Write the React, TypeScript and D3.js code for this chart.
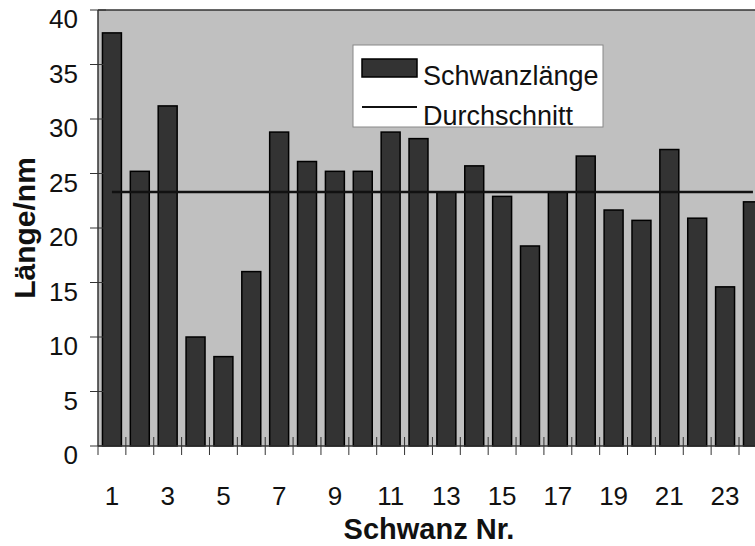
import React from "react";
import * as d3 from "d3";

const categories: string[] = Array.from({ length: 24 }, (_, i) => String(i + 1));
const lengths: number[] = [
  37.9, 25.2, 31.2, 10.0, 8.2, 16.0, 28.8, 26.1, 25.2, 25.2, 28.8, 28.2,
  23.3, 25.7, 22.9, 18.35, 23.3, 26.6, 21.65, 20.7, 27.2, 20.9, 14.6, 22.4,
];
const average = 23.3;
const yTicks: number[] = [0, 5, 10, 15, 20, 25, 30, 35, 40];
const xTickLabels: string[] = ["1", "3", "5", "7", "9", "11", "13", "15", "17", "19", "21", "23"];
const legendLabels = { bar: "Schwanzlänge", line: "Durchschnitt" };
const xTitle = "Schwanz Nr.";
const yTitle = "Länge/nm";

const W = 755;
const H = 546;
const left = 98;
const top = 10;
const bottom = 446;
const step = 27.87;
const right = left + categories.length * step;
const FONT = "'Liberation Sans', Arial, sans-serif";

export default function App() {
  const x = d3
    .scaleBand<string>()
    .domain(categories)
    .range([left, right])
    .paddingInner(0.32)
    .paddingOuter(0.16);
  const y = d3.scaleLinear().domain([0, 40]).range([bottom, top]);
  const center = (c: string) => (x(c) as number) + x.bandwidth() / 2;
  const boundaries = d3.range(categories.length + 1).map((k) => left + k * x.step());

  const avgLine = d3
    .line<string>()
    .x((c) => center(c))
    .y(() => y(average));

  return (
    <svg
      width={W}
      height={H}
      style={{ position: "absolute", left: 0, top: 0, background: "#fff" }}
      fontFamily={FONT}
    >
      <rect x={left} y={top} width={right - left} height={bottom - top} fill="#c0c0c0" />
      <line x1={left} x2={right} y1={top} y2={top} stroke="#333" strokeWidth={1.5} />

      {categories.map((c, i) => (
        <rect
          key={c}
          x={x(c)}
          y={y(lengths[i])}
          width={x.bandwidth()}
          height={bottom - y(lengths[i])}
          fill="#333333"
          stroke="#000"
          strokeWidth={1.5}
        />
      ))}

      <path d={avgLine(categories) || ""} stroke="#111" strokeWidth={2.5} fill="none" />

      {/* axes */}
      <line x1={left} x2={left} y1={top} y2={bottom} stroke="#333" strokeWidth={1.5} />
      <line x1={left} x2={right} y1={bottom} y2={bottom} stroke="#333" strokeWidth={1.5} />
      {yTicks.map((t) => (
        <g key={t}>
          <line x1={90} x2={106} y1={y(t)} y2={y(t)} stroke="#333" strokeWidth={1} />
          <text x={78} y={y(t) + 18} textAnchor="end" fontSize={26} fill="#111">
            {t}
          </text>
        </g>
      ))}
      {boundaries.map((b, k) => (
        <line key={k} x1={b} x2={b} y1={k === 0 ? bottom : bottom - 9} y2={bottom + 9} stroke="#333" strokeWidth={1} />
      ))}
      {xTickLabels.map((l) => (
        <text key={l} x={center(l)} y={505} textAnchor="middle" fontSize={26} fill="#111">
          {l}
        </text>
      ))}

      <text x={429} y={539} textAnchor="middle" fontSize={29} fontWeight="bold" fill="#111">
        {xTitle}
      </text>
      <text
        transform="translate(35,228) rotate(-90)"
        textAnchor="middle"
        fontSize={30}
        fontWeight="bold"
        fill="#111"
      >
        {yTitle}
      </text>

      {/* legend */}
      <rect x={353} y={45} width={250} height={82} fill="#fff" stroke="#888" strokeWidth={1} />
      <rect x={362} y={59} width={55} height={18} fill="#333" stroke="#000" strokeWidth={1.5} />
      <line x1={362} x2={417} y1={107} y2={107} stroke="#111" strokeWidth={2} />
      <text x={423} y={85} fontSize={27} fill="#111">
        {legendLabels.bar}
      </text>
      <text x={423} y={125} fontSize={27} fill="#111">
        {legendLabels.line}
      </text>
    </svg>
  );
}
